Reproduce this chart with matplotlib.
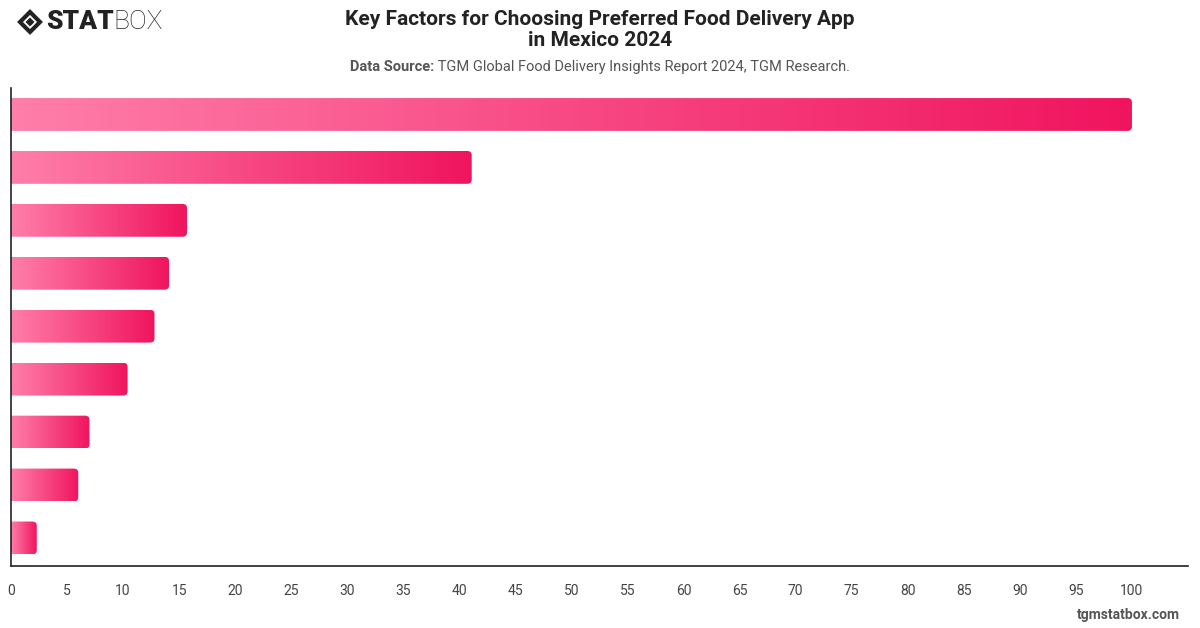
import numpy as np
import matplotlib
matplotlib.use("Agg")
import matplotlib.pyplot as plt
from matplotlib.colors import LinearSegmentedColormap
from matplotlib.patches import FancyBboxPatch, Polygon

# Valores (de arriba hacia abajo)
valores = [100, 41.1, 15.7, 14.1, 12.8, 10.4, 7.0, 6.0, 2.3]
ticks_x = list(range(0, 101, 5))

titulo = "Key Factors for Choosing Preferred Food Delivery App\nin Mexico 2024"
fuente_bold = "Data Source:"
fuente_texto = " TGM Global Food Delivery Insights Report 2024, TGM Research."
pie = "tgmstatbox.com"

plt.rcParams['font.family'] = ['Roboto', 'DejaVu Sans']

fig = plt.figure(figsize=(12, 6.28), dpi=100)
ax = fig.add_axes([11/1200, 1 - 566/628, (1188 - 11)/1200, (566 - 88)/628])

# Gradiente rosa claro -> rosa intenso
cmap = LinearSegmentedColormap.from_list("rosa", ["#ff7eaa", "#f0145f"])
grad = np.linspace(0, 1, 256).reshape(1, -1)

alto = 0.62
for i, v in enumerate(valores):
    caja = FancyBboxPatch((-2, i - alto/2), v + 2, alto,
                          boxstyle="round,pad=0,rounding_size=0.4",
                          mutation_aspect=0.2, facecolor="none", edgecolor="none")
    ax.add_patch(caja)
    img = ax.imshow(grad, cmap=cmap, aspect="auto",
                    extent=[0, v, i + alto/2, i - alto/2], zorder=2)
    img.set_clip_path(caja)

ax.set_xlim(0, 105)
ax.set_ylim(len(valores) - 0.47, -0.5)
ax.set_xticks(ticks_x)
ax.set_yticks([])
ax.tick_params(axis='x', length=0, pad=13, labelsize=10, labelcolor="#444444")
for s in ['top', 'right']:
    ax.spines[s].set_visible(False)
for s in ['left', 'bottom']:
    ax.spines[s].set_color("#222222")
    ax.spines[s].set_linewidth(1.2)

# Títulos
fig.text(0.5, 1 - 30/628, titulo, ha='center', va='center', fontsize=15,
         fontweight='bold', color="#222222", linespacing=1.15)

# Subtítulo: parte en negrita + parte normal, centrado en conjunto
r = fig.canvas.get_renderer()
yb = 1 - 67/628
tb = fig.text(0, yb, fuente_bold, ha='left', va='center', fontsize=10.5,
              fontweight='bold', color="#555555")
tn = fig.text(0, yb, fuente_texto, ha='left', va='center', fontsize=10.5,
              color="#555555")
wb = tb.get_window_extent(r).width
wn = tn.get_window_extent(r).width
x0 = (fig.bbox.width - wb - wn) / 2
tb.set_x(x0 / fig.bbox.width)
tn.set_x((x0 + wb) / fig.bbox.width)

# Logo
cx, cy, h = 30/1200, 1 - 22/628, 10
dx, dy = h/1200, h/628
fig.patches.append(Polygon([[cx - dx, cy], [cx, cy + dy], [cx + dx, cy], [cx, cy - dy]],
                           closed=True, fill=False, edgecolor="#222222", linewidth=3,
                           transform=fig.transFigure, joinstyle='miter'))
dx2, dy2 = 4.5/1200, 4.5/628
fig.patches.append(Polygon([[cx - dx2, cy], [cx, cy + dy2], [cx + dx2, cy], [cx, cy - dy2]],
                           closed=True, facecolor="#222222", edgecolor="none",
                           transform=fig.transFigure))
ts = fig.text(46/1200, cy, "STAT", ha='left', va='center', fontsize=19,
              fontweight='black', color="#222222", family=['Roboto', 'DejaVu Sans'])
ax.annotate("BOX", xy=(1, 0), xycoords=ts, ha='left', va='bottom', fontsize=19,
            fontweight='light', color="#222222", family=['Roboto', 'DejaVu Sans'],
            annotation_clip=False)

fig.text(1180/1200, 1 - 615/628, pie, ha='right', va='center', fontsize=10,
         fontweight='bold', color="#555555")

fig.savefig("out.png", dpi=100)
